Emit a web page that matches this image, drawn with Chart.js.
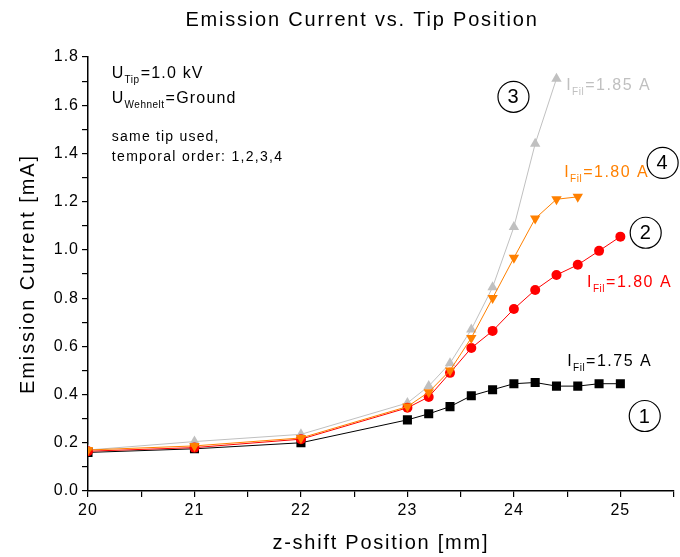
<!DOCTYPE html>
<html>
<head>
<meta charset="utf-8">
<script src="https://cdn.jsdelivr.net/npm/chart.js@4.4.0/dist/chart.umd.min.js"></script>
<style>
  html, body { margin: 0; padding: 0; background: #fff; }
  #wrap { width: 680px; height: 557px; }
</style>
</head>
<body>
<div id="wrap"><canvas id="chart" width="680" height="557"></canvas></div>
<script>
// z-shift positions [mm]
const zPos = [20, 21, 22, 23, 23.2, 23.4, 23.6, 23.8, 24, 24.2, 24.4, 24.6, 24.8, 25];

// emission current [mA], one array per run
const run1_175A = [0.16, 0.175, 0.20, 0.295, 0.32, 0.35, 0.395, 0.42, 0.445, 0.45, 0.435, 0.435, 0.445, 0.445];
const run2_180A = [0.165, 0.18, 0.215, 0.345, 0.39, 0.49, 0.593, 0.664, 0.755, 0.834, 0.896, 0.938, 0.996, 1.055];
const run4_180A = [0.17, 0.187, 0.22, 0.35, 0.41, 0.50, 0.635, 0.80, 0.967, 1.13, 1.21, 1.22];
const run3_185A = [0.17, 0.205, 0.235, 0.365, 0.435, 0.53, 0.67, 0.845, 1.095, 1.44, 1.71];

function pts(vals) {
    let out = [];
    for (let i = 0; i < vals.length; i++) {
        out.push({ x: zPos[i], y: vals[i] });
    }
    return out;
}

const FONT = "'Liberation Sans', Arial, sans-serif";

// text with subscript, e.g. I_Fil=1.85 A
function subText(ctx, x, y, main, sub, rest, color, size, sp) {
    ctx.save();
    ctx.letterSpacing = sp + 'px';
    ctx.fillStyle = color;
    ctx.textBaseline = 'middle';
    ctx.textAlign = 'left';
    ctx.font = size + 'px ' + FONT;
    ctx.fillText(main, x, y);
    let w = ctx.measureText(main).width;
    let subSize = Math.round(size * 0.62);
    ctx.letterSpacing = '0.5px';
    ctx.font = subSize + 'px ' + FONT;
    ctx.fillText(sub, x + w, y + size * 0.42);
    w += ctx.measureText(sub).width + 1;
    ctx.letterSpacing = sp + 'px';
    ctx.font = size + 'px ' + FONT;
    ctx.fillText(rest, x + w, y);
    ctx.restore();
}

function plain(ctx, x, y, str, size, sp, align, rot) {
    ctx.save();
    ctx.letterSpacing = sp + 'px';
    ctx.fillStyle = '#000';
    ctx.font = size + 'px ' + FONT;
    ctx.textAlign = align;
    ctx.textBaseline = 'middle';
    ctx.translate(x, y);
    if (rot) ctx.rotate(rot);
    ctx.fillText(str, 0, 0);
    ctx.restore();
}

function circled(ctx, x, y, label) {
    ctx.save();
    ctx.beginPath();
    ctx.arc(x, y, 15.5, 0, Math.PI * 2);
    ctx.lineWidth = 1.2;
    ctx.strokeStyle = '#000';
    ctx.stroke();
    ctx.fillStyle = '#000';
    ctx.font = '20px ' + FONT;
    ctx.textAlign = 'center';
    ctx.textBaseline = 'middle';
    ctx.fillText(label, x, y + 1);
    ctx.restore();
}

const notes = {
    id: 'notes',
    beforeLayout(chart) {
        chart.ctx.letterSpacing = '1px';
    },
    beforeDraw(chart) {
        chart.ctx.letterSpacing = '1px';
    },
    afterDraw(chart) {
        const ctx = chart.ctx;
        const xs = chart.scales.x, ys = chart.scales.y;
        const px = v => xs.getPixelForValue(v);
        const py = v => ys.getPixelForValue(v);
        const area = chart.chartArea;

        // title and axis titles
        plain(ctx, 362, 20, 'Emission Current vs. Tip Position', 20, 1.8, 'center', 0);
        plain(ctx, (area.left + area.right) / 2, 543, 'z-shift Position [mm]', 20, 1.75, 'center', 0);
        plain(ctx, 28, (area.top + area.bottom) / 2, 'Emission Current [mA]', 20, 1.9, 'center', -Math.PI / 2);

        subText(ctx, px(20.224), py(1.73), 'U', 'Tip', '=1.0 kV', '#000', 16, 1.2);
        subText(ctx, px(20.224), py(1.627), 'U', 'Wehnelt', '=Ground', '#000', 16, 1.2);
        plain(ctx, px(20.224), py(1.469), 'same tip used,', 14, 1.2, 'left', 0);
        plain(ctx, px(20.224), py(1.386), 'temporal order: 1,2,3,4', 14, 1.3, 'left', 0);

        subText(ctx, px(24.491), py(1.68), 'I', 'Fil', '=1.85 A', '#c0c0c0', 16, 1.5);
        subText(ctx, px(24.472), py(1.32), 'I', 'Fil', '=1.80 A', '#ff8000', 16, 1.5);
        subText(ctx, px(24.687), py(0.863), 'I', 'Fil', '=1.80 A', '#ff0000', 16, 1.5);
        subText(ctx, px(24.50), py(0.535), 'I', 'Fil', '=1.75 A', '#000', 16, 1.5);

        circled(ctx, px(23.996), py(1.635), '3');
        circled(ctx, px(25.397), py(1.361), '4');
        circled(ctx, px(25.238), py(1.071), '2');
        circled(ctx, px(25.229), py(0.311), '1');
    }
};

const ctx = document.getElementById('chart');

new Chart(ctx, {
    type: 'scatter',
    data: {
        datasets: [
            {
                label: '4: I_Fil=1.80 A',
                data: pts(run4_180A),
                showLine: true,
                borderColor: '#ff8000',
                backgroundColor: '#ff8000',
                borderWidth: 1,
                pointStyle: 'triangle',
                pointRotation: 180,
                pointRadius: 6,
                pointBorderWidth: 0
            },
            {
                label: '2: I_Fil=1.80 A',
                data: pts(run2_180A),
                showLine: true,
                borderColor: '#ff0000',
                backgroundColor: '#ff0000',
                borderWidth: 1,
                pointStyle: 'circle',
                pointRadius: 5,
                pointBorderWidth: 0
            },
            {
                label: '1: I_Fil=1.75 A',
                data: pts(run1_175A),
                showLine: true,
                borderColor: '#000',
                backgroundColor: '#000',
                borderWidth: 1,
                pointStyle: 'rect',
                pointRadius: 6.4,
                pointBorderWidth: 0
            },
            {
                label: '3: I_Fil=1.85 A',
                data: pts(run3_185A),
                showLine: true,
                borderColor: '#c0c0c0',
                backgroundColor: '#c0c0c0',
                borderWidth: 1,
                pointStyle: 'triangle',
                pointRadius: 6,
                pointBorderWidth: 0
            }
        ]
    },
    options: {
        responsive: false,
        animation: false,
        layout: { padding: { top: 57, right: 0, left: 0, bottom: 0 } },
        plugins: {
            legend: { display: false },
            tooltip: { enabled: false }
        },
        scales: {
            x: {
                type: 'linear',
                min: 20,
                max: 25.5,
                afterFit: s => { s.height = 66; s.paddingRight = 0; s.paddingLeft = 0; },
                border: { color: '#000', width: 1.5 },
                grid: { drawOnChartArea: false, color: '#000', tickLength: 6, lineWidth: 1.2 },
                ticks: {
                    stepSize: 0.5,
                    autoSkip: false,
                    maxRotation: 0,
                    color: '#000',
                    padding: 4,
                    font: { family: FONT, size: 16 },
                    callback: v => (Math.abs(v - Math.round(v)) < 1e-6 ? String(Math.round(v)) : '')
                }
            },
            y: {
                min: 0,
                max: 1.8,
                afterFit: s => { s.width = 88; },
                border: { color: '#000', width: 1.5 },
                grid: { drawOnChartArea: false, color: '#000', tickLength: 6, lineWidth: 1.2 },
                ticks: {
                    stepSize: 0.1,
                    autoSkip: false,
                    color: '#000',
                    padding: 3,
                    font: { family: FONT, size: 16 },
                    callback: v => (Math.round(v * 10) % 2 === 0 ? v.toFixed(1) : '')
                }
            }
        }
    },
    plugins: [notes]
});
</script>
</body>
</html>
